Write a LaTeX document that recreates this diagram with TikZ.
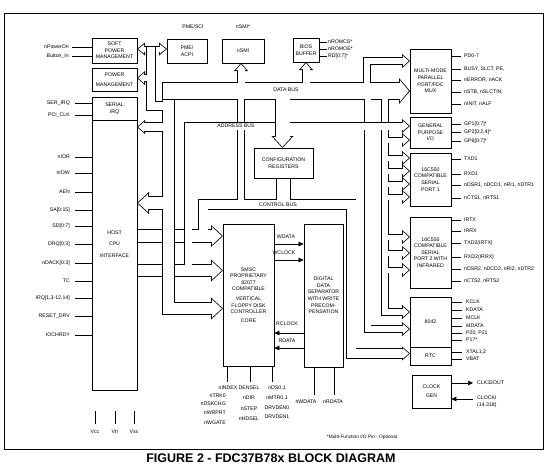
\documentclass[tikz,border=0pt]{standalone}
\usepackage{fontspec}
\setmainfont{Liberation Sans}
\usetikzlibrary{arrows.meta}
\newcommand\smallfs{\fontsize{5.2}{6.6}\selectfont}
% hollow bus: black pass, then white pass
\newcommand\busln[3][]{%
  \draw[line width=#2pt+1.6pt,tip#1o] #3;
  \draw[white,line width=#2pt,tip#1i] #3;}
\tikzset{
  tipo/.style={}, tipi/.style={},
  tipSo/.style={-{Triangle[length=8pt,width=14pt,line width=0pt]}},
  tipSi/.style={-{Triangle[length=6pt,width=10.5pt,line width=0pt]},shorten >=1.2pt},
  tipLo/.style={-{Triangle[length=12pt,width=22pt,line width=0pt]}},
  tipLi/.style={-{Triangle[length=10pt,width=18.4pt,line width=0pt]},shorten >=1.2pt},
  tipMo/.style={-{Triangle[length=11pt,width=26pt,line width=0pt]}},
  tipMi/.style={-{Triangle[length=9pt,width=22pt,line width=0pt]},shorten >=1.2pt},
  tipDo/.style={{Triangle[length=8pt,width=13pt,line width=0pt]}-{Triangle[length=8pt,width=13pt,line width=0pt]}},
  tipDi/.style={{Triangle[length=6pt,width=9.6pt,line width=0pt]}-{Triangle[length=6pt,width=9.6pt,line width=0pt]},shorten >=1.2pt,shorten <=1.2pt}
}
\begin{document}
\begin{tikzpicture}[x=1pt,y=-1pt,
  blk/.style={draw,line width=0.7pt,inner sep=0pt,align=center,font=\smallfs},
  lbl/.style={inner sep=0pt,font=\smallfs},
  pin/.style={line width=0.6pt},
  sarr/.style={line width=0.6pt,-{Triangle[length=5pt,width=4.5pt]}}]
\useasboundingbox (0,0) rectangle (550,472);
\draw[line width=0.8pt] (4,13) rectangle (543,449);

% buses
\busln[L]{12}{(137,236) -- (223,236)}
\busln[L]{11}{(137,270.5) -- (223,270.5)}
\busln[S]{9}{(203,230) -- (203,204.5) -- (351,204.5) -- (351,353.5) -- (410,353.5)}
\busln[L]{11}{(168.5,82.2) -- (168.5,308.5) -- (223,308.5)}
\busln[M]{16}{(163,91) -- (410,91)}
\busln[S]{6}{(367.5,99) -- (367.5,329) -- (410,329)}
\busln[S]{6}{(385,99) -- (385,312) -- (410,312)}
\foreach \y in {140,158,171,184,197,237,253,270}
  {\busln[S]{5}{(388,\y) -- (410,\y)}}
\busln{6}{(241,99) -- (241,200)}
\busln[S]{7}{(188,265) -- (188,126) -- (410,126)}
\busln[L]{14}{(282.5,99) -- (282.5,148)}
\busln{13}{(283.5,178) -- (283.5,200)}
\busln[S]{7}{(241,83) -- (241,63)}
\busln[S]{7}{(306,83) -- (306,62)}
\busln[S]{6}{(367,83) -- (367,61) -- (410,61)}
\busln[D]{5}{(137,49) -- (167,49)}
\busln{8}{(151,46.5) -- (151,106) -- (163,106)}
\busln[S]{6}{(147,78) -- (137,78)}
\busln[S]{8}{(163,127) -- (137,127)}
\busln[L]{12}{(163,203) -- (137,203)}

\node[lbl] (dbus) at (286,90) {DATA BUS};
\node[lbl] (abus) at (236,126) {ADDRESS BUS};
\node[lbl] (cbus) at (278,205) {CONTROL BUS};

% blocks
\node[blk,minimum width=45pt,minimum height=25pt] (softpm) at (114.5,50.5) {SOFT\\POWER\\MANAGEMENT};
\node[blk,minimum width=45pt,minimum height=23pt] (pm) at (114.5,79.5) {POWER\\[3pt]MANAGEMENT};
\node[blk,minimum width=45pt,minimum height=23pt] (sirq) at (114.5,108.5) {SERIAL\\IRQ};
\node[blk,minimum width=45pt,minimum height=270pt] (host) at (114.5,255) {};
\node[lbl,align=center] (hosttxt) at (114.5,244) {HOST\\[5pt]CPU\\[5pt]INTERFACE};
\node[blk,minimum width=40pt,minimum height=24pt] (pme) at (187,51) {PME/\\ACPI};
\node[blk,minimum width=42pt,minimum height=24pt] (nsmi) at (243,51) {nSMI};
\node[blk,minimum width=26pt,minimum height=24pt] (bios) at (306,50) {BIOS\\BUFFER};
\node[blk,minimum width=59pt,minimum height=30pt] (cfg) at (283.5,163) {CONFIGURATION\\REGISTERS};
\node[blk,minimum width=51pt,minimum height=142pt] (smsc) at (248.5,295)
  {SMSC\\PROPRIETARY\\82077\\COMPATIBLE\\[3pt]VERTICAL\\FLOPPY DISK\\CONTROLLER\\[2pt]CORE};
\node[blk,minimum width=39pt,minimum height=143pt] (dds) at (323.5,295.5)
  {DIGITAL\\DATA\\SEPARATOR\\WITH WRITE\\PRECOM-\\PENSATION};
\node[blk,minimum width=41pt,minimum height=64pt] (mm) at (430.5,81) {MULTI-MODE\\PARALLEL\\PORT/FDC\\MUX};
\node[blk,minimum width=41pt,minimum height=31pt] (gpio) at (430.5,132.5) {GENERAL\\PURPOSE\\I/O};
\node[blk,minimum width=41pt,minimum height=53pt] (ser1) at (430.5,179.5) {16C550\\COMPATIBLE\\SERIAL\\PORT 1};
\node[blk,minimum width=41pt,minimum height=71pt] (ser2) at (430.5,252.5) {16C550\\COMPATIBLE\\SERIAL\\PORT 2 WITH\\INFRARED};
\node[blk,minimum width=41pt,minimum height=50pt] (kbd) at (430.5,322) {8042};
\node[blk,minimum width=41pt,minimum height=18pt] (rtc) at (430.5,356) {RTC};
\node[blk,minimum width=39pt,minimum height=33pt] (clk) at (431.5,391.5) {CLOCK\\[2pt]GEN};

% top labels
\node[lbl] (pmesci) at (193,27) {PME/SCI};
\node[lbl] (nsmio) at (243,27) {nSMI*};

% left pins
\foreach \y/\t [count=\i] in {47/nPowerOn,56/Button\_In}{
  \node[lbl,anchor=east] (sp\i) at (69,\y) {\t};
  \draw[pin] ([xshift=3pt]sp\i.east) -- (sp\i -| softpm.west);}
\foreach \y/\t [count=\i] in {103/SER\_IRQ,115/PCI\_CLK}{
  \node[lbl,anchor=east] (si\i) at (70,\y) {\t};
  \draw[pin] ([xshift=5pt]si\i.east) -- (si\i -| sirq.west);}
\foreach \y/\t [count=\i] in {157/nIOR,173/nIOW,192/AEN,210/SA[0:15],226/SD[0:7],244/DRQ[0:3],
    263/nDACK[0:3],281/TC,298/{IRQ[1,3-12,14]},316/RESET\_DRV,335/IOCHRDY}{
  \node[lbl,anchor=east] (hp\i) at (70,\y) {\t};
  \draw[pin] ([xshift=5pt]hp\i.east) -- (hp\i -| host.west);}

% power pins
\foreach \x/\t [count=\i] in {95/Vcc,115/Vtr,134/Vss}{
  \node[lbl] (pw\i) at (\x,432) {\t};
  \draw[pin] (pw\i.north) ++(0,-6) -- ++(0,-13);}

% right pins
\foreach \y/\t [count=\i] in {42/nROMCS*,49/nROMOE*,56/RD[0:7]*}{
  \node[lbl,anchor=west] (bo\i) at (328,\y) {\t};
  \draw[pin] (bo\i -| bios.east) -- ([xshift=-1pt]bo\i.west);}
\foreach \y/\t [count=\i] in {56/PD0-7,69/{BUSY, SLCT, PE,},80/{nERROR, nACK},92/{nSTB, nSLCTIN,},104/{nINIT, nALF}}{
  \node[lbl,anchor=west] (mo\i) at (464,\y) {\t};
  \draw[pin] (mo\i -| mm.east) -- ([xshift=-3pt]mo\i.west);}
\foreach \y/\t [count=\i] in {124/GP1[0:7]*,132/{GP2[0:2,4]*},141/GP6[0:7]*}{
  \node[lbl,anchor=west] (go\i) at (464,\y) {\t};
  \draw[pin] (go\i -| gpio.east) -- ([xshift=-3pt]go\i.west);}
\foreach \y/\t [count=\i] in {159/TXD1,174/RXD1,185/{nDSR1, nDCD1, nRI1, nDTR1},198/{nCTS1, nRTS1}}{
  \node[lbl,anchor=west] (ao\i) at (464,\y) {\t};
  \draw[pin] (ao\i -| ser1.east) -- ([xshift=-3pt]ao\i.west);}
\foreach \y/\t [count=\i] in {220/IRTX,231/IRRX,243/TXD2(IRTX),257/RXD2(IRRX),269/{nDSR2, nDCD2, nRI2, nDTR2},281/{nCTS2, nRTS2}}{
  \node[lbl,anchor=west] (bo\i) at (464,\y) {\t};
  \draw[pin] (bo\i -| ser2.east) -- ([xshift=-3pt]bo\i.west);}
\foreach \y/\t [count=\i] in {302/KCLK,310/KDATA,318/MCLK,326/MDATA,333/{P20, P21},340/P17*}{
  \node[lbl,anchor=west] (ko\i) at (466,\y) {\t};
  \draw[pin] (ko\i -| kbd.east) -- ([xshift=-4pt]ko\i.west);}
\foreach \y/\t [count=\i] in {352/{XTAL1,2},359/VBAT}{
  \node[lbl,anchor=west] (ro\i) at (466,\y) {\t};
  \draw[pin] (ro\i -| rtc.east) -- ([xshift=-4pt]ro\i.west);}

% clock
\node[lbl,anchor=west] (clkout) at (477,383) {CLK32OUT};
\node[lbl,anchor=west,align=left] (clkin) at (477,401.5) {CLOCKI\\(14.318)};
\draw[sarr] (clk.east |- clkout) -- ([xshift=-4pt]clkout.west);
\draw[sarr] ([xshift=-4pt]clkin.west |- 0,399) -- (clk.east |- 0,399);

% FDC to data separator
\node[lbl] (wdl) at (286,237) {WDATA};
\node[lbl] (wcl) at (284,253) {WCLOCK};
\node[lbl] (rcl) at (287,324) {RCLOCK};
\node[lbl] (rdl) at (287,341) {RDATA};
\draw[sarr] (smsc.east |- 0,244) -- (dds.west |- 0,244);
\draw[sarr] (smsc.east |- 0,260) -- (dds.west |- 0,260);
\draw[sarr] (dds.west |- 0,333) -- (smsc.east |- 0,333);
\draw[sarr] (dds.west |- 0,348) -- (smsc.east |- 0,348);

% FDC pins
\foreach \x in {227,250,272}{\draw[pin] (smsc.south -| \x,0) -- ++(0,16);}
\node[lbl] (f1) at (228,388) {nINDEX};
\foreach \y/\t [count=\i] in {396/nTRK0,404/nDSKCHG,413/nWRPRT,423/nWGATE}
  {\node[lbl,anchor=east] (fa\i) at (226,\y) {\t};}
\foreach \y/\t [count=\i] in {388/DENSEL,398/nDIR,409/nSTEP,419/nHDSEL}
  {\node[lbl] (fb\i) at (249,\y) {\t};}
\foreach \y/\t [count=\i] in {388/{nDS0,1},398/{nMTR0,1},408/DRVDEN0,417/DRVDEN1}
  {\node[lbl] (fc\i) at (277,\y) {\t};}
\foreach \x in {314,334}{\draw[pin] (dds.south -| \x,0) -- ++(0,28);}
\node[lbl] (nwd) at (306,402) {nWDATA};
\node[lbl] (nrd) at (333,402) {nRDATA};

\node[lbl,font=\fontsize{4.8}{6}\selectfont] (note) at (362,437) {*Multi-Function I/O Pin - Optional};
\node[inner sep=0pt,font=\fontsize{12.5}{14}\selectfont\bfseries] (title) at (271,458) {FIGURE 2 - FDC37B78x BLOCK DIAGRAM};
\end{tikzpicture}
\end{document}
